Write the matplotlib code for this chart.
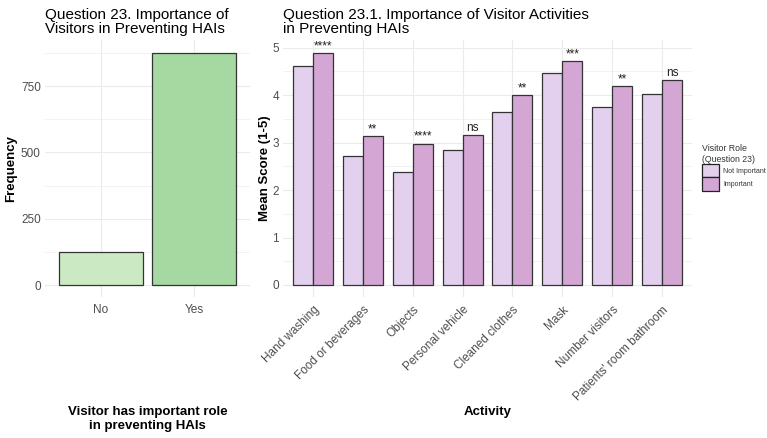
import matplotlib
matplotlib.use("Agg")
import matplotlib.pyplot as plt
from matplotlib.patches import Patch
import numpy as np

plt.rcParams['font.family'] = ['Liberation Sans', 'DejaVu Sans']

# Question 23 counts
q23_labels = ['No', 'Yes']
q23_counts = [126, 873]
q23_colors = ['#cbeac4', '#a6d8a2']

# Question 23.1 mean scores by visitor role
activities = ['Hand washing', 'Food or beverages', 'Objects', 'Personal vehicle',
              'Cleaned clothes', 'Mask', 'Number visitors', "Patients' room bathroom"]
not_important = [4.61, 2.71, 2.39, 2.84, 3.64, 4.47, 3.75, 4.03]
important = [4.88, 3.13, 2.98, 3.17, 4.00, 4.72, 4.19, 4.32]
signif = ['****', '**', '****', 'ns', '**', '***', '**', 'ns']
role_labels = ['Not Important', 'Important']
role_colors = ['#e3d0ee', '#d3a6d4']

W, H = 767, 438
fig = plt.figure(figsize=(W / 100, H / 100), dpi=100)
fig.patch.set_facecolor('white')

grid_col = '#ebebeb'
tick_col = '#4d4d4d'


def px_axes(left, top, right, bottom):
    return fig.add_axes([left / W, 1 - bottom / H, (right - left) / W, (bottom - top) / H])


def style(ax):
    for s in ax.spines.values():
        s.set_visible(False)
    ax.tick_params(length=0, labelcolor=tick_col, labelsize=8.5, pad=3)
    ax.grid(True, which='major', color=grid_col, lw=0.8)
    ax.grid(True, which='minor', axis='y', color=grid_col, lw=0.45)
    ax.set_axisbelow(True)


# ---- left panel
ax1 = px_axes(45, 40, 250, 297)
x1 = np.arange(len(q23_labels))
ax1.bar(x1, q23_counts, width=0.9, color=q23_colors, edgecolor='#333333', lw=0.9)
ax1.set_xlim(-0.6, 1.6)
ax1.set_ylim(-45.2, 923.5)
ax1.set_yticks([0, 250, 500, 750])
ax1.set_yticks([125, 375, 625, 875], minor=True)
ax1.set_xticks(x1)
ax1.set_xticklabels(q23_labels)
style(ax1)
ax1.tick_params(axis='y', which='minor', length=0)
ax1.tick_params(axis='x', pad=5)
ax1.set_ylabel('Frequency', fontsize=9.5, fontweight='bold', labelpad=3)
ax1.set_title('Question 23. Importance of\nVisitors in Preventing HAIs', loc='left',
              fontsize=11, pad=5, linespacing=1.0)

# ---- right panel
ax2 = px_axes(283, 40, 692, 297)
x2 = np.arange(len(activities))
bw = 0.4
ax2.bar(x2 - bw / 2, not_important, width=bw, color=role_colors[0], edgecolor='#333333', lw=0.9)
ax2.bar(x2 + bw / 2, important, width=bw, color=role_colors[1], edgecolor='#333333', lw=0.9)
for i, lab in enumerate(signif):
    top = max(not_important[i], important[i])
    ax2.text(x2[i] + bw / 2, top + 0.085, lab, ha='center', va='baseline',
             fontsize=8.5, color='#222222')
ax2.set_xlim(-0.6, len(activities) - 0.4)
ax2.set_ylim(-0.253, 5.162)
ax2.set_yticks([0, 1, 2, 3, 4, 5])
ax2.set_yticks([0.5, 1.5, 2.5, 3.5, 4.5], minor=True)
ax2.set_xticks(x2)
ax2.set_xticklabels(activities, rotation=45, ha='right', rotation_mode='anchor')
style(ax2)
ax2.tick_params(axis='y', which='minor', length=0)
ax2.tick_params(axis='x', labelsize=8.5, pad=5)
ax2.set_ylabel('Mean Score (1-5)', fontsize=9.5, fontweight='bold', labelpad=1)
ax2.set_title('Question 23.1. Importance of Visitor Activities\nin Preventing HAIs', loc='left',
              fontsize=11, pad=5, linespacing=1.0)

# x axis titles, aligned across panels
fig.text(147.5 / W, 1 - 419 / H, 'Visitor has important role\nin preventing HAIs',
         ha='center', va='center', fontsize=9.5, fontweight='bold', linespacing=1.15)
fig.text(487.5 / W, 1 - 412 / H, 'Activity', ha='center', va='center',
         fontsize=9.5, fontweight='bold')

# legend
handles = [Patch(facecolor=c, edgecolor='#222222', lw=0.9) for c in role_colors]
leg = fig.legend(handles, role_labels, title='Visitor Role\n(Question 23)',
                 loc='upper left', bbox_to_anchor=(701 / W, 1 - 143 / H),
                 frameon=False, fontsize=5, title_fontsize=6.3, alignment='left',
                 handlelength=2.4, handleheight=2.6, labelspacing=0.0,
                 handletextpad=0.6, borderpad=0.2, borderaxespad=0.0)
leg.get_title().set_color('#333333')
for t in leg.get_texts():
    t.set_color('#333333')

fig.savefig('out.png', dpi=100)
